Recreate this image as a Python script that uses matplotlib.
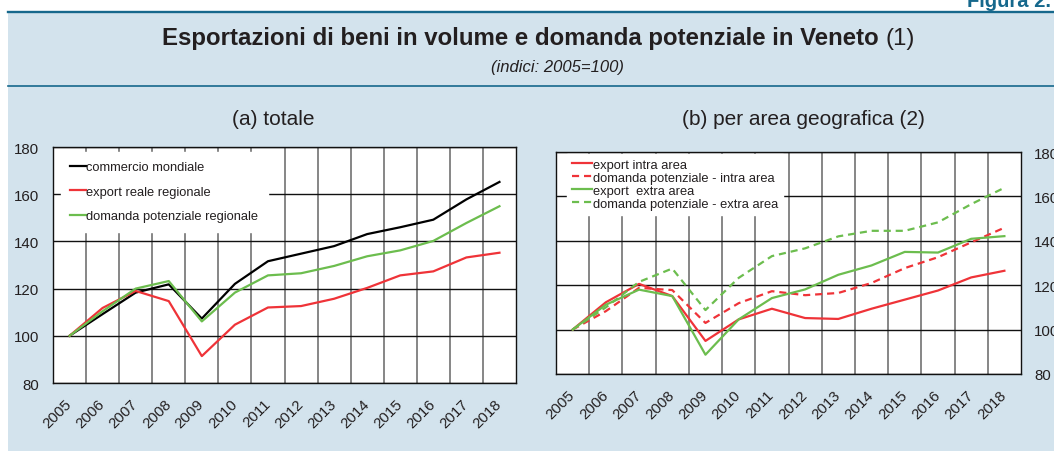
import matplotlib
matplotlib.use("Agg")
import matplotlib.pyplot as plt
from matplotlib.patches import Rectangle
from matplotlib.lines import Line2D

plt.rcParams['font.family'] = ['Liberation Sans', 'DejaVu Sans']

years = ['2005', '2006', '2007', '2008', '2009', '2010', '2011',
         '2012', '2013', '2014', '2015', '2016', '2017', '2018']

# (a) totale
commercio_mondiale = [100, 109.2, 118.3, 121.8, 107.3, 122.0, 131.6,
                      134.8, 138.0, 143.1, 146.0, 149.2, 157.8, 165.2]
export_reale = [100, 111.8, 119.0, 114.7, 91.4, 104.7, 112.0,
                112.6, 115.7, 120.3, 125.6, 127.3, 133.2, 135.2]
domanda_regionale = [100, 110.4, 120.0, 123.2, 106.1, 118.3, 125.6,
                     126.5, 129.6, 133.7, 136.2, 140.2, 147.8, 154.9]

# (b) per area geografica
export_intra = [100, 112.3, 120.6, 115.1, 94.9, 104.6, 109.4,
                105.2, 104.8, 109.4, 113.5, 117.6, 123.5, 126.5]
domanda_intra = [100, 108.3, 118.8, 117.8, 103.0, 111.9, 117.3,
                 115.5, 116.5, 121.0, 127.7, 132.6, 139.3, 145.9]
export_extra = [100, 111.2, 118.0, 115.1, 88.7, 104.6, 114.2,
                118.1, 124.7, 128.9, 135.0, 134.7, 140.9, 142.1]
domanda_extra = [100, 110.0, 121.5, 127.5, 108.8, 123.3, 133.1,
                 136.6, 142.0, 144.5, 144.5, 148.3, 156.5, 163.9]

y_ticks = [80, 100, 120, 140, 160, 180]

BG = '#d3e3ed'
TEAL = '#16688c'
RED = '#ef3338'
GREEN = '#6cbd4e'
TXT = '#231f20'

W, H = 1054, 452
fig = plt.figure(figsize=(W / 100, H / 100), dpi=100, facecolor='white')


def fx(px):
    return px / W


def fy(py):
    return 1 - py / H


# background panel and rules
fig.patches.append(Rectangle((fx(8), 0), 1 - fx(8), fy(13), transform=fig.transFigure,
                             facecolor=BG, edgecolor='none', zorder=-5))
fig.lines.append(Line2D([fx(8), 1], [fy(13.3), fy(13.3)], transform=fig.transFigure,
                        color=TEAL, lw=1.7, zorder=-4))
fig.lines.append(Line2D([fx(8), 1], [fy(86.7), fy(86.7)], transform=fig.transFigure,
                        color=TEAL, lw=1.2, zorder=-4))

fig.text(fx(967), fy(6.7), 'Figura 2.', ha='left', va='baseline', fontsize=14.5,
         weight='bold', color=TEAL)

t1 = fig.text(fx(162), fy(45), 'Esportazioni di beni in volume e domanda potenziale in Veneto',
              ha='left', va='baseline', fontsize=17.3, weight='bold', color=TXT)
fig.canvas.draw()
bb = t1.get_window_extent()
fig.text(bb.x1 / W + fx(7), fy(45), '(1)', ha='left', va='baseline', fontsize=17.3, color=TXT)
fig.text(fx(557), fy(71.7), '(indici: 2005=100)', ha='center', va='baseline', fontsize=12,
         style='italic', color=TXT)

fig.text(fx(273), fy(125), '(a) totale', ha='center', va='baseline', fontsize=15, color=TXT)
fig.text(fx(803), fy(125), '(b) per area geografica (2)', ha='center', va='baseline',
         fontsize=15, color=TXT)


def setup_axes(ax, right=False):
    x = range(len(years))
    ax.set_facecolor('white')
    ax.set_xlim(-0.5, len(years) - 0.5)
    ax.set_ylim(80, 180)
    ax.set_yticks(y_ticks)
    ax.set_xticks(list(x))
    ax.set_xticks([i + 0.5 for i in range(len(years) - 1)], minor=True)
    ax.set_xticklabels(years, rotation=45, ha='right', va='center', rotation_mode='anchor',
                       fontsize=10.8, color=TXT)
    ax.tick_params(axis='x', which='both', length=0, pad=13)
    ax.tick_params(axis='y', length=0, labelsize=10.8, labelcolor=TXT, pad=10)
    if right:
        ax.yaxis.tick_right()
        ax.tick_params(axis='y', pad=9.5)
    ax.grid(axis='y', which='major', color='#111111', lw=1.0)
    ax.grid(axis='x', which='minor', color='#666666', lw=1.1)
    ax.set_axisbelow(True)
    for s in ax.spines.values():
        s.set_color('#111111')
        s.set_linewidth(1.0)


# (a) totale
ax1 = fig.add_axes([fx(53), fy(384), fx(463), 236 / H])
setup_axes(ax1)
x = range(len(years))
ax1.plot(x, commercio_mondiale, color='black', lw=1.6, label='commercio mondiale')
ax1.plot(x, export_reale, color=RED, lw=1.6, label='export reale regionale')
ax1.plot(x, domanda_regionale, color=GREEN, lw=1.6, label='domanda potenziale regionale')
leg1 = ax1.legend(loc='upper left', bbox_to_anchor=(0.017, 0.979), borderaxespad=0,
                  fontsize=9.3, handlelength=1.2, handletextpad=0.05, labelspacing=0.97,
                  borderpad=0.72, frameon=True, fancybox=False, framealpha=1,
                  edgecolor='white', facecolor='white')
for t in leg1.get_texts():
    t.set_color(TXT)

# (b) per area geografica
ax2 = fig.add_axes([fx(556), fy(375), fx(465), 222 / H])
setup_axes(ax2, right=True)
ax2.plot(x, export_intra, color=RED, lw=1.6, label='export intra area')
ax2.plot(x, domanda_intra, color=RED, lw=1.6, dashes=(3.2, 2.2),
         label='domanda potenziale - intra area')
ax2.plot(x, export_extra, color=GREEN, lw=1.6, label='export  extra area')
ax2.plot(x, domanda_extra, color=GREEN, lw=1.6, dashes=(3.2, 2.2),
         label='domanda potenziale - extra area')
leg2 = ax2.legend(loc='upper left', bbox_to_anchor=(0.024, 0.991), borderaxespad=0,
                  fontsize=9.3, handlelength=1.6, handletextpad=0.05, labelspacing=0.08,
                  borderpad=0.36, frameon=True, fancybox=False, framealpha=1,
                  edgecolor='white', facecolor='white')
for t in leg2.get_texts():
    t.set_color(TXT)

fig.savefig('out.png', dpi=100, facecolor='white')
